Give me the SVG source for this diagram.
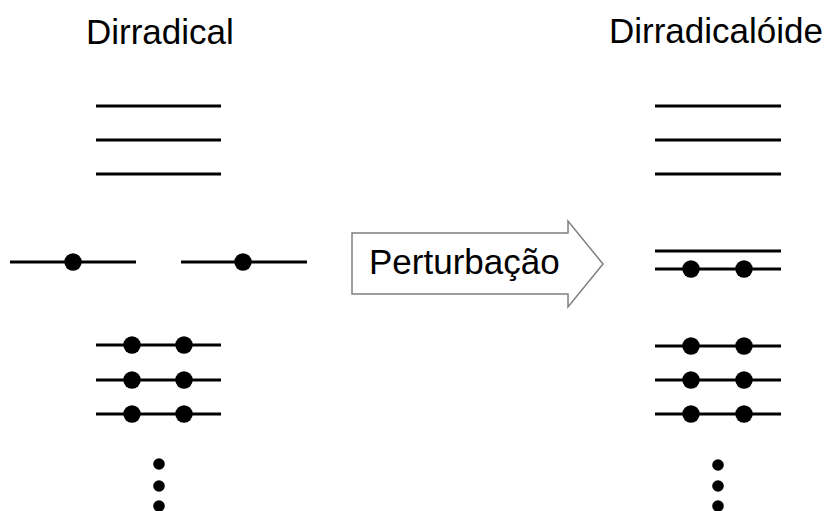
<svg xmlns="http://www.w3.org/2000/svg" width="828" height="511" viewBox="0 0 828 511">
  <style>
    .lbl { font-family: "Liberation Sans", Arial, sans-serif; font-size: 35px; fill: #000; }
    .lvl { stroke: #000; stroke-width: 3.2; fill: none; }
    .e { fill: #000; }
    .ell { fill: #000; }
  </style>
  <defs>
    <circle id="el" r="8.7" class="e"/>
    <circle id="dot" r="5.8" class="ell"/>
  </defs>
  <rect width="828" height="511" fill="#fff"/>

  <!-- Left: diradical -->
  <g id="dirradical">
    <text class="lbl" x="86" y="44">Dirradical</text>
    <line class="lvl" x1="96" y1="106" x2="221" y2="106"/>
    <line class="lvl" x1="96" y1="140" x2="221" y2="140"/>
    <line class="lvl" x1="96" y1="174" x2="221" y2="174"/>
    <line class="lvl" x1="10" y1="262" x2="136" y2="262"/>
    <use href="#el" x="73" y="262"/>
    <line class="lvl" x1="181" y1="262" x2="307" y2="262"/>
    <use href="#el" x="243" y="262"/>
    <line class="lvl" x1="96" y1="345" x2="221" y2="345"/>
    <use href="#el" x="132" y="345"/><use href="#el" x="184" y="345"/>
    <line class="lvl" x1="96" y1="380" x2="221" y2="380"/>
    <use href="#el" x="132" y="380"/><use href="#el" x="184" y="380"/>
    <line class="lvl" x1="96" y1="414" x2="221" y2="414"/>
    <use href="#el" x="132" y="414"/><use href="#el" x="184" y="414"/>
    <use href="#dot" x="159" y="464"/>
    <use href="#dot" x="159" y="486"/>
    <use href="#dot" x="159" y="506"/>
  </g>

  <!-- Middle: perturbation arrow -->
  <g id="perturbacao">
    <path d="M352 233 H568 V221 L603 264 L568 307 V294 H352 Z" fill="#fff" stroke="#7f7f7f" stroke-width="1.5" stroke-linejoin="miter"/>
    <text class="lbl" x="369" y="274">Perturbação</text>
  </g>

  <!-- Right: diradicaloid -->
  <g id="dirradicaloide">
    <text class="lbl" x="609" y="43">Dirradicalóide</text>
    <line class="lvl" x1="655" y1="106" x2="781" y2="106"/>
    <line class="lvl" x1="655" y1="140" x2="781" y2="140"/>
    <line class="lvl" x1="655" y1="174" x2="781" y2="174"/>
    <line class="lvl" x1="655" y1="251" x2="781" y2="251"/>
    <line class="lvl" x1="655" y1="269" x2="781" y2="269"/>
    <use href="#el" x="691" y="269"/><use href="#el" x="744" y="269"/>
    <line class="lvl" x1="655" y1="346" x2="781" y2="346"/>
    <use href="#el" x="691" y="346"/><use href="#el" x="744" y="346"/>
    <line class="lvl" x1="655" y1="380" x2="781" y2="380"/>
    <use href="#el" x="691" y="380"/><use href="#el" x="744" y="380"/>
    <line class="lvl" x1="655" y1="414" x2="781" y2="414"/>
    <use href="#el" x="691" y="414"/><use href="#el" x="744" y="414"/>
    <use href="#dot" x="718" y="465"/>
    <use href="#dot" x="718" y="486"/>
    <use href="#dot" x="718" y="506"/>
  </g>
</svg>
